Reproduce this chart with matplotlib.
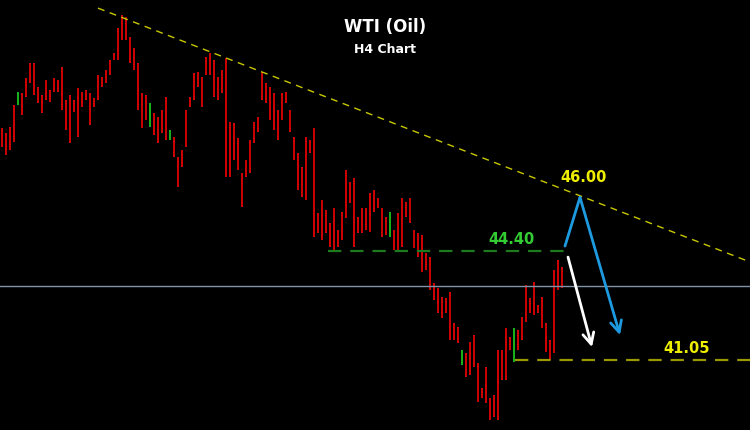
import matplotlib.pyplot as plt

# H4 bars (high / low), oldest first
highs = [48.18, 48.03, 48.21, 48.89, 49.29, 49.26, 49.72, 50.18, 50.18, 49.44,
         49.20, 49.66, 49.35, 49.72, 49.66, 50.06, 49.04, 49.20, 49.04, 49.41,
         49.29, 49.35, 49.26, 49.10, 49.81, 49.75, 49.97, 50.27, 50.49, 51.26,
         51.66, 51.60, 50.98, 50.64, 50.18, 49.26, 49.20, 48.95, 48.64, 48.52,
         48.74, 49.14, 48.12, 47.90, 47.29, 47.50, 48.74, 49.14, 49.87, 49.90,
         49.75, 50.37, 50.49, 50.27, 49.75, 49.97, 50.34, 48.37, 48.34, 47.87,
         46.80, 47.20, 47.81, 48.37, 48.52, 49.90, 49.57, 49.44, 49.26, 48.74,
         49.26, 49.29, 48.74, 47.90, 47.41, 46.98, 47.90, 47.81, 48.18, 45.57,
         45.97, 45.66, 45.26, 45.72, 45.04, 45.60, 46.89, 46.52, 46.64, 45.44,
         45.72, 45.72, 46.18, 46.27, 46.03, 45.72, 45.44, 45.60, 45.04, 45.57,
         46.03, 45.90, 46.03, 45.04, 44.95, 44.89, 44.34, 44.21, 43.41, 43.26,
         42.98, 42.95, 43.14, 42.18, 42.06, 41.35, 41.26, 41.60, 41.81, 40.95,
         40.18, 40.83, 39.87, 39.97, 41.35, 41.35, 42.03, 41.75, 42.03, 41.97,
         42.37, 43.35, 42.95, 43.44, 42.74, 42.98, 42.18, 41.66, 43.81, 44.12,
         43.90]
lows = [47.60, 47.35, 47.50, 47.75, 48.89, 48.58, 49.14, 49.57, 49.20, 48.95,
        48.64, 49.04, 48.98, 49.29, 49.29, 48.74, 48.12, 47.72, 48.67, 47.90,
        48.83, 49.04, 48.27, 48.83, 49.04, 49.44, 49.57, 49.81, 50.27, 50.27,
        50.89, 50.89, 50.18, 49.97, 48.74, 48.18, 48.43, 48.21, 47.97, 47.72,
        48.03, 47.81, 47.81, 47.29, 46.37, 46.98, 47.60, 48.83, 49.04, 49.44,
        48.83, 49.81, 49.81, 49.14, 49.04, 49.26, 46.67, 46.67, 47.20, 46.89,
        45.75, 46.67, 46.80, 47.72, 48.06, 49.04, 48.95, 48.43, 48.12, 47.81,
        48.43, 48.95, 48.06, 47.20, 46.27, 46.06, 45.97, 47.41, 44.83, 44.95,
        44.74, 44.95, 44.52, 44.43, 44.52, 44.74, 45.41, 45.87, 44.52, 44.95,
        44.95, 45.04, 44.98, 45.60, 45.72, 44.83, 44.89, 44.83, 44.43, 44.43,
        44.52, 45.44, 45.26, 44.49, 44.21, 43.75, 43.81, 43.20, 42.89, 42.49,
        42.34, 42.49, 41.66, 41.66, 41.57, 40.89, 40.52, 40.58, 40.83, 39.75,
        39.87, 39.72, 39.20, 39.29, 39.20, 40.43, 40.43, 41.35, 40.98, 41.35,
        41.66, 42.21, 42.49, 42.43, 42.49, 42.03, 41.29, 41.04, 41.26, 43.20,
        43.26]
up_bars = [4, 37, 42, 97, 115, 128]

# levels drawn on the chart
resistance = 44.40
target = 41.05
retest = 46.00
last_price = 43.32
trend_x = [24, 187]
trend_y = [51.87, 44.06]

fig = plt.figure(figsize=(7.5, 4.3), dpi=100, facecolor='black')
ax = fig.add_axes([0, 0, 1, 1], facecolor='black')

x = list(range(len(highs)))
colors = ['#18b018' if i in up_bars else '#cc0000' for i in x]
ax.bar(x, [h - l for h, l in zip(highs, lows)], bottom=lows, width=0.65,
       color=colors, linewidth=0)

# trend line and horizontal levels
ax.plot(trend_x, trend_y, color='#c8c800', lw=1, dashes=(5, 4))
ax.axhline(last_price, color='#8094a8', lw=1)
ax.plot([81.5, 142.5], [resistance, resistance], color='#1d7a1d', lw=1.6, dashes=(6, 4))
ax.plot([128.2, 187], [target, target], color='#9a9a00', lw=1.6, dashes=(6, 4))

ax.text(121.5, resistance + 0.12, '44.40', color='#33cc33', fontsize=10.5,
        fontweight='bold', va='bottom')
ax.text(165.3, target + 0.12, '41.05', color='#eeee00', fontsize=10.5,
        fontweight='bold', va='bottom')
ax.text(139.5, retest + 0.42, '46.00', color='#eeee00', fontsize=10.5,
        fontweight='bold', va='bottom')

# projected moves
ax.plot([140.75, 144.5], [44.55, 46.05], color='#1e9be0', lw=2,
        solid_capstyle='round')
ax.annotate('', xy=(154.5, 41.81), xytext=(144.5, 46.05),
            arrowprops=dict(arrowstyle='->,head_length=0.8,head_width=0.4',
                            color='#1e9be0', lw=2, shrinkA=0, shrinkB=0))
ax.annotate('', xy=(147.5, 41.44), xytext=(141.5, 44.21),
            arrowprops=dict(arrowstyle='->,head_length=0.8,head_width=0.4',
                            color='white', lw=2, shrinkA=0, shrinkB=0))

fig.text(0.513, 0.937, 'WTI (Oil)', color='white', fontsize=12,
         fontweight='bold', ha='center', va='center')
fig.text(0.513, 0.884, 'H4 Chart', color='white', fontsize=9,
         fontweight='bold', ha='center', va='center')

ax.set_xlim(-0.5, 187)
ax.set_ylim(38.89, 52.12)
ax.axis('off')

fig.savefig('out.png', dpi=100, facecolor='black')
